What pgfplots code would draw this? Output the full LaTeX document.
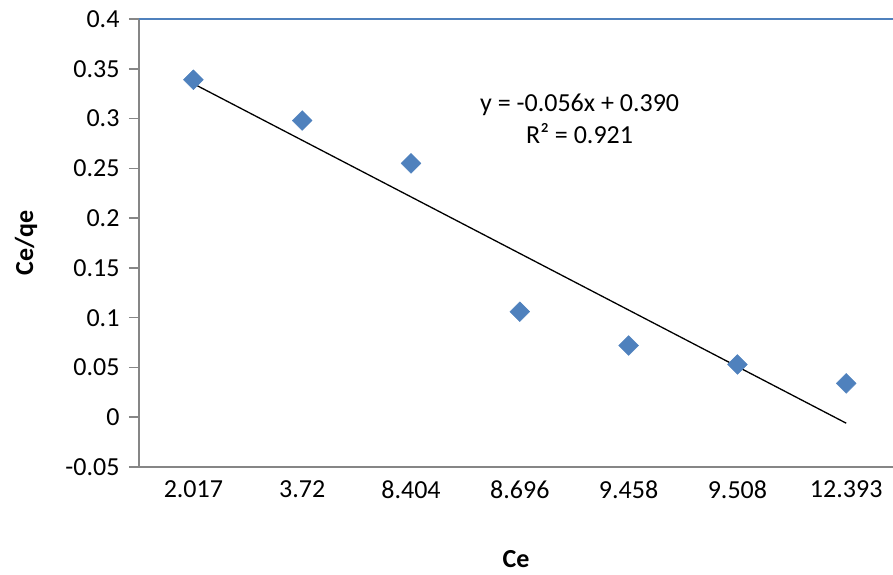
\documentclass[border=0pt]{standalone}
\usepackage{pgfplots}
\pgfplotsset{compat=1.18}
\usepackage{fontspec}
\setmainfont{Carlito}
\definecolor{seriesblue}{HTML}{4F81BD}
\definecolor{axisgray}{HTML}{868686}

\begin{document}
\begin{tikzpicture}[font=\fontsize{26bp}{31bp}\selectfont]
\begin{axis}[
  at={(0,0)}, anchor=south west,
  scale only axis, width=754bp, height=448bp,
  xmin=0.5, xmax=7.43, ymin=-0.05, ymax=0.4,
  axis x line*=bottom, axis y line*=left,
  axis line style={draw=axisgray, line width=1.5bp, -},
  xtick={1,2,3,4,5,6,7},
  xticklabels={2.017,3.72,8.404,8.696,9.458,9.508,12.393},
  major x tick style={draw=none},
  extra x ticks={0.5,1.5,2.5,3.5,4.5,5.5,6.5},
  extra x tick labels={},
  extra x tick style={major tick length=8bp, tick align=outside,
    major tick style={draw=axisgray, line width=1.5bp}},
  ytick={-0.05,0,0.05,0.1,0.15,0.2,0.25,0.3,0.35,0.4},
  yticklabels={-0.05,0,0.05,0.1,0.15,0.2,0.25,0.3,0.35,0.4},
  tick align=outside,
  major y tick style={draw=axisgray, line width=1.5bp},
  major tick length=10bp,
  y tick label style={anchor=east, xshift=-6bp},
  x tick label style={anchor=north, yshift=0bp},
  xlabel={\bfseries Ce},
  ylabel={\bfseries Ce/qe},
  xlabel style={at={(axis description cs:0.5,0)}, anchor=center, inner sep=0pt, yshift=-92bp},
  ylabel style={at={(axis description cs:0,0.5)}, anchor=center, inner sep=0pt, rotate=0, yshift=113bp},
  clip=false,
]
% measured points
\addplot[only marks, mark=square*, mark size=7bp,
  mark options={rotate=45, fill=seriesblue, draw=seriesblue}]
  coordinates {(1,0.339) (2,0.298) (3,0.255) (4,0.106) (5,0.072) (6,0.053) (7,0.034)};
% linear trendline
\addplot[black, line width=1.3bp] coordinates {(1,0.335) (7,-0.006)};
\node[align=center, inner sep=0pt] at (axis cs:4.55,0.30)
  {y = -0.056x + 0.390\\[1bp] R² = 0.921};
% top border of the plot area
\draw[seriesblue, line width=2bp] (axis cs:0.5,0.4) -- (axis cs:7.43,0.4);
\end{axis}
\pgfresetboundingbox
\path[use as bounding box] (-139bp,-108bp) rectangle (754bp,467bp);
\end{tikzpicture}
\end{document}
